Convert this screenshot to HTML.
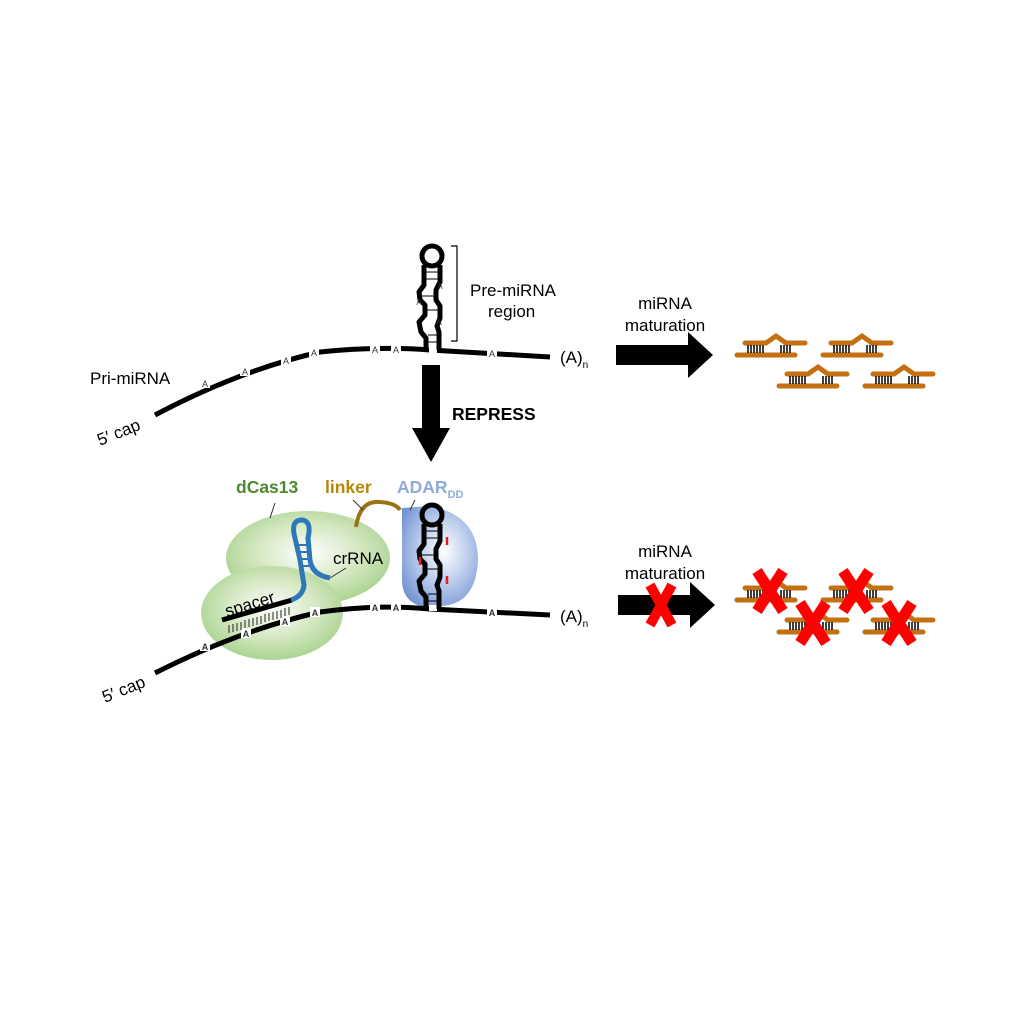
<!DOCTYPE html>
<html><head><meta charset="utf-8"><style>
html,body{margin:0;padding:0;background:#fff}
svg{display:block}
text{font-family:"Liberation Sans",Arial,sans-serif}
</style></head><body>
<svg width="1024" height="1024" viewBox="0 0 1024 1024" xmlns="http://www.w3.org/2000/svg">
<defs>
<radialGradient id="g" cx="50%" cy="45%" r="60%">
<stop offset="0" stop-color="#ffffff"/><stop offset="0.5" stop-color="#d6e9c4"/><stop offset="1" stop-color="#a3cf88"/>
</radialGradient>
<radialGradient id="b" cx="55%" cy="45%" r="65%">
<stop offset="0" stop-color="#ffffff"/><stop offset="0.5" stop-color="#bccdec"/><stop offset="1" stop-color="#7394d2"/>
</radialGradient>
<g id="hp">
<circle cx="432" cy="256" r="10" fill="none" stroke="#000" stroke-width="5"/>
<path d="M424 265 L424 285 L419 292 L420 300 L425 305 L425 315 L419 322 L421 332 L426 338 L426 350" fill="none" stroke="#000" stroke-width="5" stroke-linejoin="round"/>
<path d="M440 265 L440 282 L436 290 L436 300 L440 306 L440 318 L437 326 L439 332 L439 350" fill="none" stroke="#000" stroke-width="5" stroke-linejoin="round"/>
<g stroke="#000" stroke-width="1">
<line x1="426" y1="272" x2="438" y2="272"/><line x1="426" y1="279" x2="438" y2="279"/>
<line x1="422" y1="296" x2="434" y2="296"/><line x1="427" y1="310" x2="438" y2="310"/>
<line x1="428" y1="335" x2="437" y2="335"/><line x1="428" y1="342" x2="437" y2="342"/>
</g>
</g>
<g id="mi">
<path d="M745 343 L766 343 L776 336 L786 343 L805 343" fill="none" stroke="#c46f12" stroke-width="5" stroke-linecap="round"/>
<line x1="737" y1="355" x2="795" y2="355" stroke="#c46f12" stroke-width="5" stroke-linecap="round"/>
<g stroke="#000" stroke-width="1.5">
<line x1="748" y1="345" x2="748" y2="353"/><line x1="751" y1="345" x2="751" y2="353"/><line x1="754" y1="345" x2="754" y2="353"/><line x1="757" y1="345" x2="757" y2="353"/><line x1="760" y1="345" x2="760" y2="353"/><line x1="763" y1="345" x2="763" y2="353"/>
<line x1="781" y1="345" x2="781" y2="353"/><line x1="784" y1="345" x2="784" y2="353"/><line x1="787" y1="345" x2="787" y2="353"/><line x1="790" y1="345" x2="790" y2="353"/>
</g>
</g>
<g id="x"><path d="M757 571 L783 611 M783 571 L757 611" stroke="#ff0000" stroke-width="11"/></g>
</defs>

<!-- TOP RNA -->
<path d="M155 415 Q240 370 320 352 Q380 346 430 350 L550 357" fill="none" stroke="#000" stroke-width="5"/>
<g font-size="9" text-anchor="middle" fill="#333">
<g fill="#fff"><rect x="200" y="378" width="10" height="10"/><rect x="240" y="366" width="10" height="10"/><rect x="281" y="355" width="10" height="10"/><rect x="309" y="348" width="10" height="10"/><rect x="370" y="344" width="10" height="10"/><rect x="391" y="344" width="10" height="10"/><rect x="487" y="348" width="10" height="10"/><rect x="429" y="347" width="8" height="6"/></g>
<text x="205" y="387">A</text><text x="245" y="375">A</text><text x="286" y="364">A</text><text x="314" y="356">A</text><text x="375" y="353">A</text><text x="396" y="353">A</text><text x="492" y="357">A</text>
</g>
<use href="#hp"/>
<g font-size="8" fill="#333" text-anchor="middle"><text x="440" y="289">A</text><text x="419" y="305">A</text><text x="439" y="325">A</text></g>
<path d="M451 246 L457 246 L457 341 L451 341" fill="none" stroke="#000" stroke-width="1.2"/>
<text x="470" y="296" font-size="17">Pre-miRNA</text>
<text x="488" y="317" font-size="17">region</text>
<text x="90" y="384" font-size="17">Pri-miRNA</text>
<text x="100" y="446" font-size="17" transform="rotate(-22 100 446)">5′ cap</text>
<text x="560" y="363" font-size="17">(A)<tspan font-size="10" dy="5">n</tspan></text>

<!-- top maturation -->
<text x="665" y="309" font-size="17" text-anchor="middle">miRNA</text>
<text x="665" y="331" font-size="17" text-anchor="middle">maturation</text>
<path d="M616 345 L688 345 L688 332 L713 355 L688 378 L688 365 L616 365 Z" fill="#000"/>
<use href="#mi"/><use href="#mi" x="86"/><use href="#mi" x="42" y="31"/><use href="#mi" x="128" y="31"/>

<!-- down arrow -->
<path d="M422 365 L440 365 L440 428 L450 428 L431 462 L412 428 L422 428 Z" fill="#000"/>
<text x="452" y="420" font-size="17.5" font-weight="bold">REPRESS</text>

<!-- BOTTOM -->
<ellipse cx="308" cy="558" rx="82" ry="47" fill="url(#g)"/>
<ellipse cx="272" cy="613" rx="71" ry="47" fill="url(#g)"/>
<path d="M402 508 L430 506 Q478 515 478 560 Q476 605 440 606 L420 606 Q402 600 402 580 Z" fill="url(#b)"/>
<path d="M155 673 Q240 630 320 612 Q380 604 430 609 L550 615" fill="none" stroke="#000" stroke-width="5"/>
<g fill="#fff"><rect x="200" y="641" width="10" height="10"/><rect x="241" y="628" width="10" height="10"/><rect x="280" y="616" width="10" height="10"/><rect x="310" y="607" width="10" height="10"/><rect x="370" y="602" width="10" height="10"/><rect x="391" y="602" width="10" height="10"/><rect x="487" y="607" width="10" height="10"/><rect x="429" y="605" width="8" height="6"/></g>
<g font-size="9" text-anchor="middle" fill="#333" font-weight="bold">
<text x="205" y="650">A</text><text x="246" y="637">A</text><text x="285" y="625">A</text><text x="315" y="616">A</text><text x="375" y="611">A</text><text x="396" y="611">A</text><text x="492" y="616">A</text>
</g>
<use href="#hp" y="259"/>
<g stroke="#e02020" stroke-width="2.5"><line x1="447" y1="537" x2="447" y2="545"/><line x1="420" y1="557" x2="420" y2="565"/><line x1="447" y1="576" x2="447" y2="584"/></g>
<!-- spacer & crRNA -->
<line x1="222" y1="620" x2="292" y2="600" stroke="#000" stroke-width="5"/>
<g stroke="#222" stroke-width="1">
<path d="M229 625 v8 M233 624 v8 M237 623 v8 M241 622 v8 M245 620 v8 M249 619 v8 M253 618 v8 M257 617 v8 M261 616 v8 M265 614 v8 M269 613 v8 M273 612 v8 M277 611 v8 M281 610 v8 M285 608 v8 M289 607 v8"/>
</g>
<path d="M291 600 Q303 596 304 585 L300 560 L295 538 Q290 520 302 520 Q312 521 308 538 L310 560 Q312 575 330 578" fill="none" stroke="#2f78b8" stroke-width="5"/>
<g stroke="#2f78b8" stroke-width="2"><line x1="298" y1="545" x2="309" y2="545"/><line x1="299" y1="552" x2="310" y2="552"/><line x1="300" y1="559" x2="310" y2="559"/><line x1="301" y1="566" x2="311" y2="566"/></g>
<path d="M356 527 Q360 500 380 502 Q396 503 400 510" fill="none" stroke="#9a7412" stroke-width="4"/>
<text x="236" y="493" font-size="17.5" font-weight="bold" fill="#4e8a2e">dCas13</text>
<text x="325" y="493" font-size="17.5" font-weight="bold" fill="#b8860b">linker</text>
<text x="397" y="493" font-size="17.5" font-weight="bold" fill="#8faadc">ADAR<tspan font-size="11" dy="5">DD</tspan></text>
<line x1="275" y1="503" x2="270" y2="518" stroke="#333" stroke-width="1"/>
<line x1="353" y1="500" x2="363" y2="510" stroke="#333" stroke-width="1"/>
<line x1="415" y1="500" x2="410" y2="510" stroke="#333" stroke-width="1"/>
<text x="333" y="564" font-size="17">crRNA</text>
<line x1="330" y1="578" x2="346" y2="568" stroke="#333" stroke-width="1"/>
<text x="227" y="617" font-size="17" transform="rotate(-17 227 617)">spacer</text>
<text x="105" y="703" font-size="17" transform="rotate(-22 105 703)">5′ cap</text>
<text x="560" y="622" font-size="17">(A)<tspan font-size="10" dy="5">n</tspan></text>

<!-- bottom maturation -->
<text x="665" y="557" font-size="17" text-anchor="middle">miRNA</text>
<text x="665" y="579" font-size="17" text-anchor="middle">maturation</text>
<path d="M618 595 L690 595 L690 582 L715 605 L690 628 L690 615 L618 615 Z" fill="#000"/>
<path d="M650 585 L672 625 M672 585 L650 625" stroke="#ff0000" stroke-width="10"/>
<use href="#mi" y="245"/><use href="#mi" x="86" y="245"/><use href="#mi" x="42" y="277"/><use href="#mi" x="128" y="277"/>
<use href="#x"/><use href="#x" x="86"/><use href="#x" x="43" y="32"/><use href="#x" x="129" y="32"/>
</svg>
</body></html>
